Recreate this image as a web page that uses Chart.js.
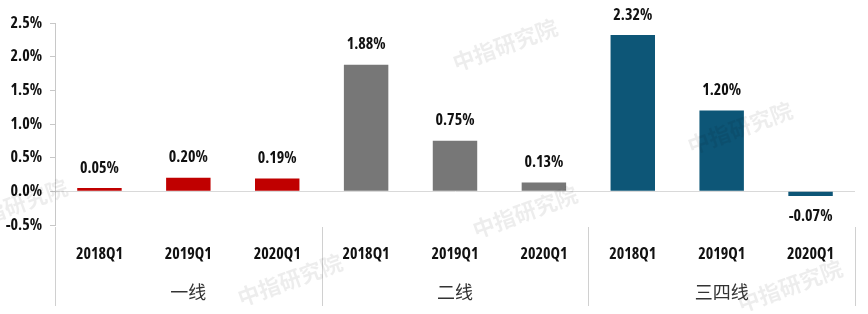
<!DOCTYPE html>
<html>
<head>
<meta charset="utf-8">
<script src="https://cdn.jsdelivr.net/npm/chart.js@4"></script>
<style>
  html, body { margin: 0; padding: 0; background: #fff; }
  #wrap { width: 868px; height: 314px; position: relative; }
</style>
</head>
<body>
<div id="wrap"><canvas id="chart"></canvas></div>
<script>
/* quarterly growth by city tier, grouped bars with a two-level x axis */

const QUARTERS = ['2018Q1', '2019Q1', '2020Q1', '2018Q1', '2019Q1', '2020Q1', '2018Q1', '2019Q1', '2020Q1'];
const GROUPS = ['一线', '二线', '三四线'];
const VALUES = [0.05, 0.20, 0.19, 1.88, 0.75, 0.13, 2.32, 1.20, -0.07];
const GROUP_COLORS = ['#C00000', '#777777', '#0D5677'];
const Y_MIN = -0.5;
const Y_MAX = 2.5;
const Y_STEP = 0.5;

const NUM_FONT = '"Open Sans", "DejaVu Sans", sans-serif';
const NUM_WEIGHT = 'bold condensed';
const CJK_FONT = '"Noto Sans CJK SC", sans-serif';

const barColors = VALUES.map((v, i) => GROUP_COLORS[Math.floor(i / 3)]);

// value labels above (or below) each bar
const valueLabels = {
  id: 'valueLabels',
  afterDatasetsDraw(chart) {
    const { ctx } = chart;
    const meta = chart.getDatasetMeta(0);
    ctx.save();
    ctx.font = NUM_WEIGHT + ' 16px ' + NUM_FONT;
    ctx.fillStyle = '#111';
    ctx.textAlign = 'center';
    meta.data.forEach((bar, i) => {
      const v = VALUES[i];
      const txt = v.toFixed(2) + '%';
      if (v >= 0) {
        ctx.textBaseline = 'bottom';
        ctx.fillText(txt, bar.x, bar.y - 12);
      } else {
        ctx.textBaseline = 'top';
        ctx.fillText(txt, bar.x, bar.y + 12);
      }
    });
    ctx.restore();
  },
};

// vertical separators between the tier groups, below the plot
const groupSeparators = {
  id: 'groupSeparators',
  afterDraw(chart) {
    const { ctx } = chart;
    const x = chart.scales.x;
    const g = chart.scales.groups;
    const per = QUARTERS.length / GROUPS.length;
    ctx.save();
    ctx.strokeStyle = '#d0d0d0';
    ctx.lineWidth = 1;
    for (let k = 0; k <= GROUPS.length; k++) {
      const idx = k * per - 0.5;
      const px = Math.round(x.getPixelForValue(idx)) + 0.5;
      ctx.beginPath();
      ctx.moveTo(px, chart.chartArea.bottom + 2);
      ctx.lineTo(px, g.bottom - 8);
      ctx.stroke();
    }
    ctx.restore();
  },
};

// faint watermark text
const watermark = {
  id: 'watermark',
  afterDraw(chart) {
    const { ctx } = chart;
    const spots = [[505, 45], [740, 128], [15, 205], [290, 280], [525, 212], [790, 286]];
    ctx.save();
    ctx.font = 'bold 22px ' + CJK_FONT;
    ctx.fillStyle = 'rgba(0,0,0,0.07)';
    ctx.textAlign = 'center';
    ctx.textBaseline = 'middle';
    spots.forEach(([sx, sy]) => {
      ctx.save();
      ctx.translate(sx, sy);
      ctx.rotate(-0.35);
      ctx.fillText('中指研究院', 0, 0);
      ctx.restore();
    });
    ctx.restore();
  },
};

new Chart(document.getElementById('chart'), {
  type: 'bar',
  data: {
    labels: QUARTERS,
    datasets: [{
      data: VALUES,
      backgroundColor: barColors,
      categoryPercentage: 1,
      barPercentage: 0.5,
    }],
  },
  options: {
    responsive: true,
    maintainAspectRatio: false,
    animation: false,
    layout: { padding: { top: 23, right: 13, left: 0, bottom: 0 } },
    plugins: { legend: { display: false }, tooltip: { enabled: false } },
    scales: {
      x: {
        position: 'bottom',
        grid: { display: false },
        border: { display: false },
        ticks: { color: '#111', font: { family: NUM_FONT, size: 16, weight: NUM_WEIGHT }, padding: 12, maxRotation: 0 },
        afterFit(s) { s.height = 45; },
      },
      groups: {
        type: 'category',
        position: 'bottom',
        labels: GROUPS,
        grid: { display: false },
        border: { display: false },
        ticks: { color: '#333', font: { family: CJK_FONT, size: 18 }, padding: 3, maxRotation: 0 },
        afterFit(s) { s.height = 44; },
      },
      y: {
        min: Y_MIN,
        max: Y_MAX,
        ticks: {
          stepSize: Y_STEP,
          color: '#111',
          font: { family: NUM_FONT, size: 16, weight: NUM_WEIGHT },
          padding: 8,
          callback: (v) => v.toFixed(1) + '%',
        },
        grid: {
          color: (c) => (c.tick && c.tick.value === 0 ? '#d9d9d9' : 'transparent'),
          tickColor: '#c8c8c8',
          tickLength: 5,
        },
        border: { color: '#c8c8c8' },
        afterFit(s) { s.width = 55; },
      },
    },
  },
  plugins: [valueLabels, groupSeparators, watermark],
});
</script>
</body>
</html>
